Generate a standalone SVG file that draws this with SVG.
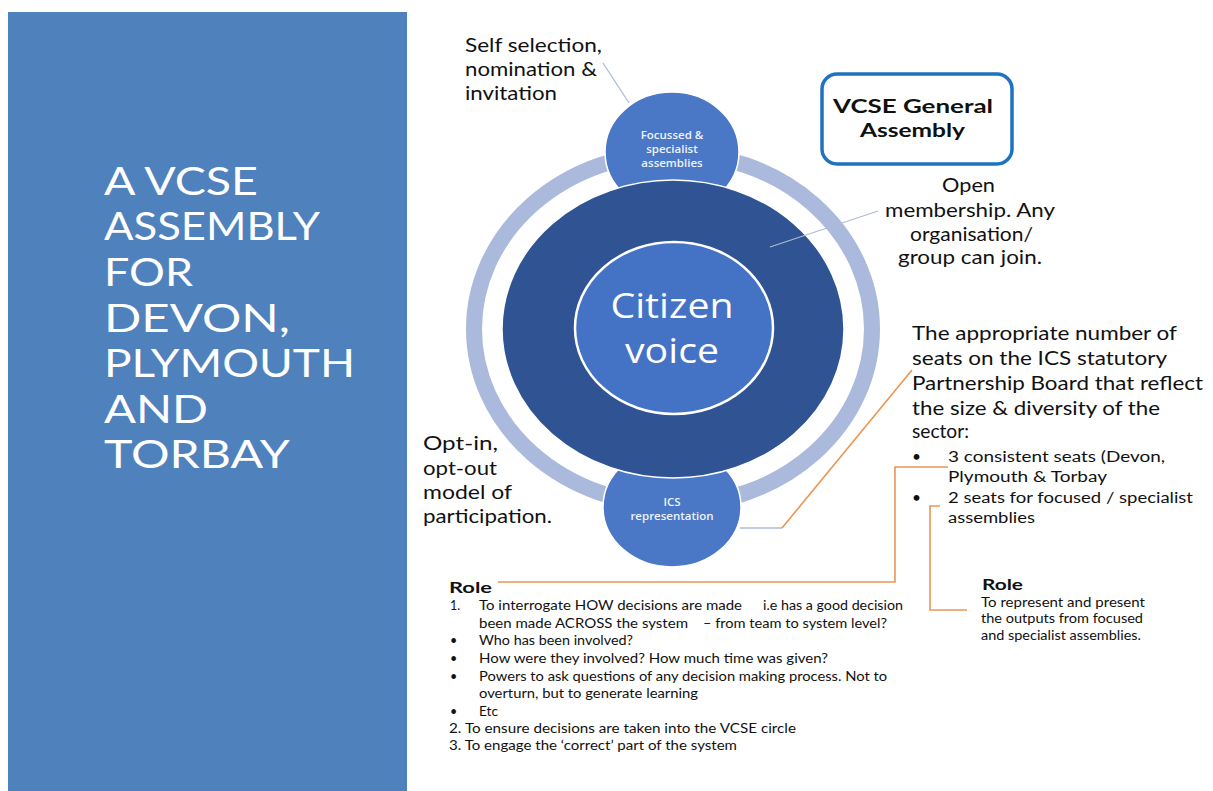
<svg xmlns="http://www.w3.org/2000/svg" width="1213" height="791" viewBox="0 0 1213 791">
<style>
.title{font-family:Lato,"Liberation Sans",sans-serif;font-size:39px;fill:#ffffff}
.lbl{font-family:Lato,"Liberation Sans",sans-serif;font-size:20px;fill:#111111}
.mid{font-family:Lato,"Liberation Sans",sans-serif;font-size:15.5px;fill:#111111}
.sm{font-family:Lato,"Liberation Sans",sans-serif;font-size:12.5px;fill:#111111}
.bold{font-family:Lato,"Liberation Sans",sans-serif;font-weight:bold;fill:#111111}
.cin{font-family:"Open Sans","Liberation Sans",sans-serif;fill:#ffffff}
.cs{font-family:"Open Sans","Liberation Sans",sans-serif;fill:#eef2fa;font-size:11.5px;font-weight:600}
.grey{stroke:#aebbd6;stroke-width:1.3;fill:none}
.orange{stroke:#ec9550;stroke-width:1.6;fill:none}
</style>
<rect x="0" y="0" width="1213" height="791" fill="#ffffff"/>
<g id="panel">
<rect x="8" y="12" width="399" height="779" fill="#4f81bd"/>
<text class="title" x="104" y="195" textLength="154" lengthAdjust="spacingAndGlyphs">A VCSE</text>
<text class="title" x="104" y="240" textLength="216" lengthAdjust="spacingAndGlyphs">ASSEMBLY</text>
<text class="title" x="104" y="286" textLength="89" lengthAdjust="spacingAndGlyphs">FOR</text>
<text class="title" x="104" y="332" textLength="186" lengthAdjust="spacingAndGlyphs">DEVON,</text>
<text class="title" x="104" y="377" textLength="251" lengthAdjust="spacingAndGlyphs">PLYMOUTH</text>
<text class="title" x="104" y="423" textLength="104" lengthAdjust="spacingAndGlyphs">AND</text>
<text class="title" x="104" y="468" textLength="186" lengthAdjust="spacingAndGlyphs">TORBAY</text>
</g>
<g id="ring">
<ellipse cx="673" cy="329" rx="199" ry="176" fill="none" stroke="#aab9dc" stroke-width="16"/>
</g>
<g id="focussed">
<ellipse cx="672" cy="152" rx="67" ry="60" fill="#4a78c6" stroke="#ffffff" stroke-width="1.5"/>
<text class="cs" text-anchor="middle" x="672" y="139">Focussed &amp;</text>
<text class="cs" text-anchor="middle" x="672" y="153">specialist</text>
<text class="cs" text-anchor="middle" x="672" y="167">assemblies</text>
</g>
<g id="ics">
<ellipse cx="672" cy="507" rx="69" ry="60" fill="#4a78c6" stroke="#ffffff" stroke-width="1.5"/>
<text class="cs" text-anchor="middle" x="672" y="506">ICS</text>
<text class="cs" text-anchor="middle" x="672" y="520">representation</text>
</g>
<g id="general">
<ellipse cx="673" cy="329" rx="171" ry="149" fill="#2f5393" stroke="#ffffff" stroke-width="1.5"/>
</g>
<g id="citizen">
<ellipse cx="674" cy="328" rx="99" ry="86" fill="#4472c4" stroke="#ffffff" stroke-width="2.5"/>
<text class="cin" font-size="34" text-anchor="middle" x="672" y="318" textLength="123" lengthAdjust="spacingAndGlyphs">Citizen</text>
<text class="cin" font-size="34" text-anchor="middle" x="672" y="363" textLength="94" lengthAdjust="spacingAndGlyphs">voice</text>
</g>
<g id="connectors">
<line class="grey" x1="603" y1="63" x2="629" y2="103"/>
<line class="grey" x1="770" y1="247" x2="878" y2="211"/>
<line class="grey" x1="740" y1="528" x2="782" y2="528"/>
<polyline class="orange" points="782,528 912,370"/>
<polyline class="orange" points="498,582 895,582 895,467 948,467"/>
<polyline class="orange" points="940,506 930,506 930,610 967,610"/>
</g>
<g id="selfsel">
<text class="lbl" x="465" y="52" textLength="137" lengthAdjust="spacingAndGlyphs">Self selection,</text>
<text class="lbl" x="465" y="76" textLength="132" lengthAdjust="spacingAndGlyphs">nomination &amp;</text>
<text class="lbl" x="465" y="100" textLength="92" lengthAdjust="spacingAndGlyphs">invitation</text>
</g>
<g id="vcse-box">
<rect x="822" y="74" width="190" height="90" rx="15" ry="15" fill="#ffffff" stroke="#1f72c0" stroke-width="3.5"/>
<text class="bold" font-size="19" x="833" y="113" textLength="160" lengthAdjust="spacingAndGlyphs">VCSE General</text>
<text class="bold" font-size="19" x="860" y="137" textLength="105" lengthAdjust="spacingAndGlyphs">Assembly</text>
</g>
<g id="open">
<text class="lbl" x="942" y="192" textLength="53" lengthAdjust="spacingAndGlyphs">Open</text>
<text class="lbl" x="885" y="217" textLength="170" lengthAdjust="spacingAndGlyphs">membership. Any</text>
<text class="lbl" x="910" y="241" textLength="123" lengthAdjust="spacingAndGlyphs">organisation/</text>
<text class="lbl" x="898" y="264" textLength="144" lengthAdjust="spacingAndGlyphs">group can join.</text>
</g>
<g id="seats">
<text class="lbl" x="912" y="340" textLength="265" lengthAdjust="spacingAndGlyphs">The appropriate number of</text>
<text class="lbl" x="912" y="365" textLength="255" lengthAdjust="spacingAndGlyphs">seats on the ICS statutory</text>
<text class="lbl" x="912" y="390" textLength="291" lengthAdjust="spacingAndGlyphs">Partnership Board that reflect</text>
<text class="lbl" x="912" y="415" textLength="248" lengthAdjust="spacingAndGlyphs">the size &amp; diversity of the</text>
<text class="lbl" x="912" y="438" textLength="57" lengthAdjust="spacingAndGlyphs">sector:</text>
<text class="mid" x="912" y="462">•</text>
<text class="mid" x="948" y="462" textLength="217" lengthAdjust="spacingAndGlyphs">3 consistent seats (Devon,</text>
<text class="mid" x="948" y="482" textLength="159" lengthAdjust="spacingAndGlyphs">Plymouth &amp; Torbay</text>
<text class="mid" x="912" y="503">•</text>
<text class="mid" x="948" y="503" textLength="245" lengthAdjust="spacingAndGlyphs">2 seats for focused / specialist</text>
<text class="mid" x="948" y="523" textLength="87" lengthAdjust="spacingAndGlyphs">assemblies</text>
</g>
<g id="optin">
<text class="lbl" x="423" y="450" font-size="21" textLength="75" lengthAdjust="spacingAndGlyphs">Opt-in,</text>
<text class="lbl" x="423" y="475" font-size="21" textLength="74" lengthAdjust="spacingAndGlyphs">opt-out</text>
<text class="lbl" x="423" y="499" font-size="21" textLength="89" lengthAdjust="spacingAndGlyphs">model of</text>
<text class="lbl" x="423" y="523" font-size="21" textLength="129" lengthAdjust="spacingAndGlyphs">participation.</text>
</g>
<g id="role-left">
<text class="bold" font-size="15.5" x="449" y="593" textLength="43" lengthAdjust="spacingAndGlyphs">Role</text>
<text class="sm" x="450" y="610">1.</text>
<text class="sm" x="479" y="610" textLength="263" lengthAdjust="spacingAndGlyphs">To interrogate HOW decisions are made</text>
<text class="sm" x="763" y="610" textLength="140" lengthAdjust="spacingAndGlyphs">i.e has a good decision</text>
<text class="sm" x="479" y="628" textLength="209" lengthAdjust="spacingAndGlyphs">been made ACROSS the system</text>
<text class="sm" x="703" y="628" textLength="184" lengthAdjust="spacingAndGlyphs">– from team to system level?</text>
<text class="sm" x="450" y="645">•</text>
<text class="sm" x="479" y="645" textLength="154" lengthAdjust="spacingAndGlyphs">Who has been involved?</text>
<text class="sm" x="450" y="663">•</text>
<text class="sm" x="479" y="663" textLength="349" lengthAdjust="spacingAndGlyphs">How were they involved? How much time was given?</text>
<text class="sm" x="450" y="681">•</text>
<text class="sm" x="479" y="681" textLength="408" lengthAdjust="spacingAndGlyphs">Powers to ask questions of any decision making process. Not to</text>
<text class="sm" x="479" y="698" textLength="219" lengthAdjust="spacingAndGlyphs">overturn, but to generate learning</text>
<text class="sm" x="450" y="716">•</text>
<text class="sm" x="479" y="716" textLength="19" lengthAdjust="spacingAndGlyphs">Etc</text>
<text class="sm" x="449" y="733" textLength="347" lengthAdjust="spacingAndGlyphs">2. To ensure decisions are taken into the VCSE circle</text>
<text class="sm" x="449" y="750" textLength="288" lengthAdjust="spacingAndGlyphs">3. To engage the ‘correct’ part of the system</text>
</g>
<g id="role-right">
<text class="bold" font-size="15.5" x="982" y="590" textLength="41" lengthAdjust="spacingAndGlyphs">Role</text>
<text class="sm" x="981" y="607" textLength="164" lengthAdjust="spacingAndGlyphs">To represent and present</text>
<text class="sm" x="981" y="623" textLength="162" lengthAdjust="spacingAndGlyphs">the outputs from focused</text>
<text class="sm" x="981" y="640" textLength="160" lengthAdjust="spacingAndGlyphs">and specialist assemblies.</text>
</g>
</svg>
